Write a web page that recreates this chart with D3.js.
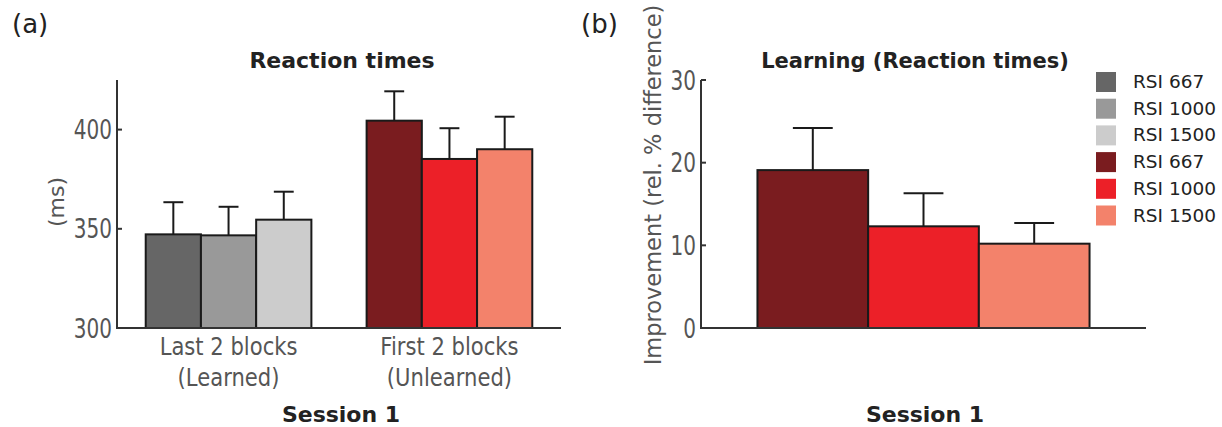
<!DOCTYPE html>
<html>
<head>
<meta charset="utf-8">
<script src="https://cdn.jsdelivr.net/npm/d3@7"></script>
<style>
	body { margin: 0; background: #fff; }
	svg { display: block; font-family: "DejaVu Sans", Verdana, sans-serif; }
</style>
</head>
<body>
<svg id="fig" width="1222" height="427"></svg>
<script>
"use strict";

// DATA
const groups = ["Learned", "Unlearned"];
const groupLines = [
	["Last 2 blocks", "(Learned)"],
	["First 2 blocks", "(Unlearned)"],
];
const rsiLabels = ["RSI 667", "RSI 1000", "RSI 1500"];
const rtLearned = [347.2, 346.7, 354.6];
const rtLearnedSem = [16.2, 14.4, 14.1];
const rtUnlearned = [404.5, 385.2, 390.1];
const rtUnlearnedSem = [14.8, 15.5, 16.4];
const improvement = [19.1, 12.3, 10.2];
const improvementSem = [5.1, 4.0, 2.5];
const rtTicks = [300, 350, 400];
const impTicks = [0, 10, 20, 30];

const grays = ["#666666", "#999999", "#cccccc"];
const reds = ["#7a1c1f", "#ec2028", "#f3826b"];

const svg = d3.select("#fig");
const axisColor = "#333";
const labelColor = "#555";

// text helper, sx squeezes glyphs horizontally
function label(g, x, y, str, size, opts = {}) {
	const sx = opts.sx || 1;
	return g.append("text")
		.attr("transform", `translate(${x},${y}) scale(${sx},1)` + (opts.rotate ? ` rotate(${opts.rotate})` : ""))
		.attr("text-anchor", opts.anchor || "start")
		.attr("font-size", size)
		.attr("font-weight", opts.bold ? "bold" : "normal")
		.attr("fill", opts.color || "#222")
		.text(str);
}

function drawAxes(g, x0, x1, y, ticks) {
	const [yBot, yTop] = y.range();
	g.append("line")
		.attr("x1", x0).attr("x2", x0)
		.attr("y1", yBot).attr("y2", yTop)
		.attr("stroke", axisColor).attr("stroke-width", 2);
	g.append("line")
		.attr("x1", x0 - 1).attr("x2", x1)
		.attr("y1", yBot).attr("y2", yBot)
		.attr("stroke", axisColor).attr("stroke-width", 2);
	ticks.forEach((t) => {
		g.append("line")
			.attr("x1", x0).attr("x2", x0 + 5)
			.attr("y1", y(t)).attr("y2", y(t))
			.attr("stroke", axisColor).attr("stroke-width", 2);
		label(g, x0 - 5, y(t) + 9.5, t, 26, { anchor: "end", sx: 0.77, color: labelColor });
	});
}

function drawBars(g, xs, y, means, sems, colors) {
	const bw = xs.bandwidth();
	means.forEach((m, i) => {
		const bx = xs(rsiLabels[i]);
		g.append("rect")
			.attr("x", bx).attr("y", y(m))
			.attr("width", bw).attr("height", y.range()[0] - y(m))
			.attr("fill", colors[i])
			.attr("stroke", "#1a1a1a").attr("stroke-width", 2);
		const cx = bx + bw / 2;
		const cap = bw * 0.18;
		g.append("line")
			.attr("x1", cx).attr("x2", cx)
			.attr("y1", y(m)).attr("y2", y(m + sems[i]))
			.attr("stroke", "#1a1a1a").attr("stroke-width", 2);
		g.append("line")
			.attr("x1", cx - cap).attr("x2", cx + cap)
			.attr("y1", y(m + sems[i])).attr("y2", y(m + sems[i]))
			.attr("stroke", "#1a1a1a").attr("stroke-width", 2);
	});
}

// PANEL A
const ga = svg.append("g");
const axA = [117, 561];
const yA = d3.scaleLinear().domain([300, 425]).range([328, 80]);
const xA = d3.scaleBand().domain(groups).range(axA).paddingInner(0.25).paddingOuter(0.13);
const xAin = d3.scaleBand().domain(rsiLabels).range([0, xA.bandwidth()]);

[[rtLearned, rtLearnedSem, grays], [rtUnlearned, rtUnlearnedSem, reds]].forEach(([m, s, c], gi) => {
	const gg = ga.append("g").attr("transform", `translate(${xA(groups[gi])},0)`);
	drawBars(gg, xAin, yA, m, s, c);
	const cx = xA.bandwidth() / 2;
	groupLines[gi].forEach((line, li) => {
		label(gg, cx, 355 + li * 31, line, 24, { anchor: "middle", sx: 0.88, color: labelColor });
	});
});
drawAxes(ga, axA[0], axA[1], yA, rtTicks);

label(ga, 342, 68, "Reaction times", 22, { anchor: "middle", bold: true });
label(ga, 341, 422, "Session 1", 22, { anchor: "middle", bold: true });
label(ga, 64, 202, "(ms)", 22, { anchor: "middle", rotate: -90, color: labelColor });
label(ga, 12, 33, "(a)", 26);

// PANEL B
const gb = svg.append("g");
const axB = [701, 1146];
const yB = d3.scaleLinear().domain([0, 30]).range([328, 80]);
const xB = d3.scaleBand().domain(["Session 1"]).range(axB).paddingOuter(0.17);
const xBin = d3.scaleBand().domain(rsiLabels).range([0, xB.bandwidth()]);

const gbb = gb.append("g").attr("transform", `translate(${xB("Session 1")},0)`);
drawBars(gbb, xBin, yB, improvement, improvementSem, reds);
drawAxes(gb, axB[0], axB[1], yB, impTicks);

label(gb, 915, 68, "Learning (Reaction times)", 21, { anchor: "middle", bold: true });
label(gb, 925, 422, "Session 1", 22, { anchor: "middle", bold: true });
label(gb, 661, 185, "Improvement (rel. % difference)", 22.5, { anchor: "middle", rotate: -90, color: labelColor });
label(gb, 581, 33, "(b)", 26);

// LEGEND
const legendColors = grays.concat(reds);
const legendLabels = rsiLabels.concat(rsiLabels);
const lg = svg.append("g").attr("transform", "translate(1096,72)");
legendLabels.forEach((t, i) => {
	lg.append("rect")
		.attr("x", 0).attr("y", i * 26.7)
		.attr("width", 20).attr("height", 20)
		.attr("fill", legendColors[i]);
	label(lg, 37, i * 26.7 + 16, t, 18.5);
});
</script>
</body>
</html>
